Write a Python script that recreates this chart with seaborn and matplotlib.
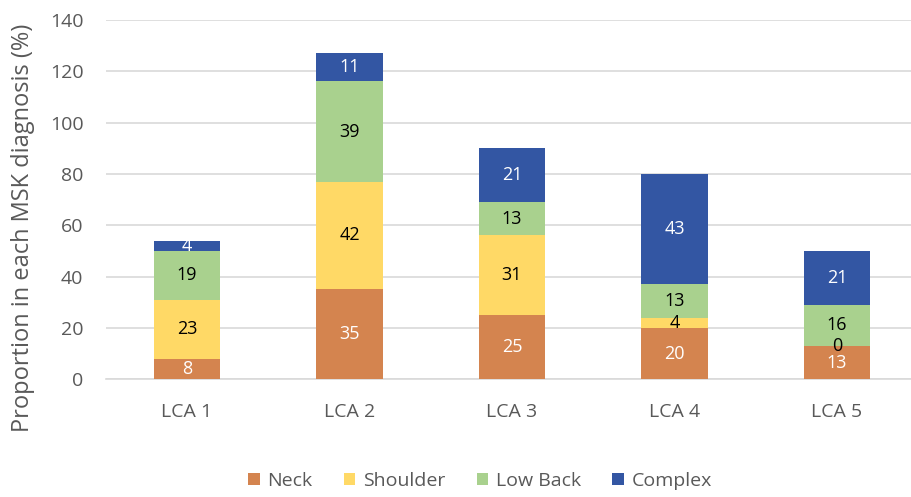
import matplotlib
matplotlib.use("Agg")
import matplotlib.pyplot as plt
import seaborn as sns
import pandas as pd
import numpy as np
from matplotlib.patches import Patch

categories = ["LCA 1", "LCA 2", "LCA 3", "LCA 4", "LCA 5"]
series_names = ["Neck", "Shoulder", "Low Back", "Complex"]
neck = [8, 35, 25, 20, 13]
shoulder = [23, 42, 31, 4, 0]
low_back = [19, 39, 13, 13, 16]
complex_ = [4, 11, 21, 43, 21]
colors = ["#D4844F", "#FFD966", "#A9D18E", "#3356A3"]
label_colors = ["white", "black", "black", "white"]

sns.set_theme(style="white")
plt.rcParams['font.family'] = ['Open Sans', 'DejaVu Sans']

fig = plt.figure(figsize=(9.11, 4.97), dpi=100)
ax = fig.add_axes([0.116, 0.237, 0.892, 0.723])

values = [neck, shoulder, low_back, complex_]
bottom = np.zeros(len(categories))
for name, vals, col, lc in zip(series_names, values, colors, label_colors):
    df = pd.DataFrame({"cat": categories, "val": vals})
    sns.barplot(data=df, x="cat", y="val", order=categories, color=col,
                bottom=bottom, width=0.41, ax=ax, saturation=1, zorder=3,
                linewidth=0, edgecolor="none")
    for i, v in enumerate(vals):
        ax.text(i, bottom[i] + v / 2, str(v), ha="center", va="center",
                color=lc, fontsize=13, zorder=10)
    bottom = bottom + np.array(vals)

ax.set_ylim(0, 140)
ax.set_xlim(-0.5, 4.5)
ax.set_yticks(range(0, 141, 20))
ax.yaxis.grid(True, color="#D9D9D9", linewidth=1.2, zorder=0)
ax.set_axisbelow(True)
for s in ["top", "right", "left"]:
    ax.spines[s].set_visible(False)
ax.spines["bottom"].set_color("#D9D9D9")
ax.spines["bottom"].set_linewidth(1.2)
ax.tick_params(axis="y", length=0, labelsize=14, colors="#595959", pad=16)
ax.tick_params(axis="x", length=0, labelsize=14, colors="#595959", pad=17)
ax.set_xlabel("")
ax.set_ylabel("Proportion in each MSK diagnosis (%)", fontsize=17, color="#595959")
ax.yaxis.set_label_coords(-0.087, 0.42)

handles = [Patch(facecolor=c, edgecolor="none") for c in colors]
fig.legend(handles, series_names, loc="center", ncol=4, frameon=False,
           fontsize=14, labelcolor="#595959", bbox_to_anchor=(0.527, 0.032),
           handlelength=0.6, handleheight=0.6, columnspacing=1.6, handletextpad=0.4)

fig.savefig("out.png", dpi=100)
